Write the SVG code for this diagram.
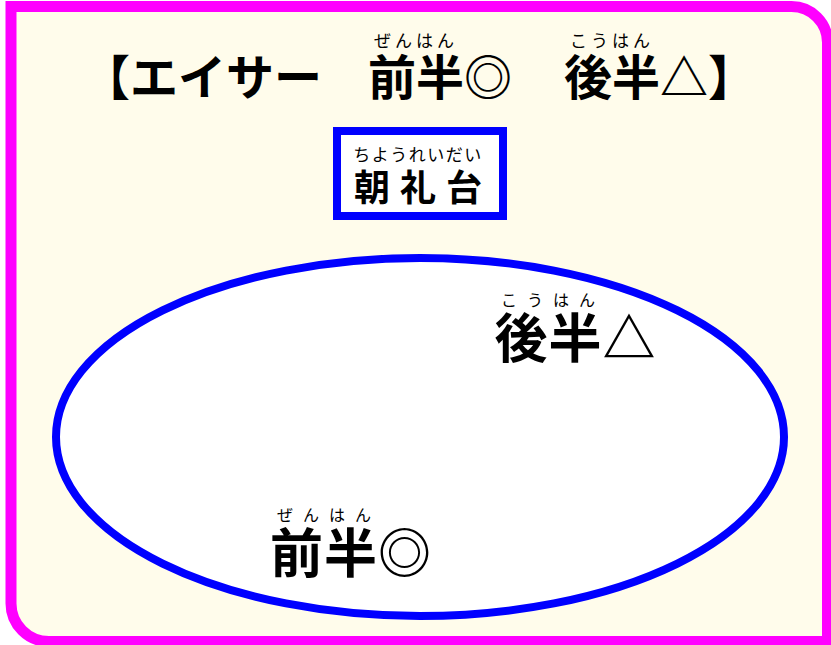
<svg xmlns="http://www.w3.org/2000/svg" width="831" height="645" viewBox="0 0 831 645">
<style>
.big{font-family:"Noto Sans CJK JP","Noto Sans CJK SC",sans-serif;font-weight:700;fill:#000}
.ruby{font-family:"Noto Sans CJK JP","Noto Sans CJK SC",sans-serif;font-weight:400;fill:#000}
</style>
<rect width="831" height="645" fill="#ffffff"/>
<g id="frame">
<path d="M11,6.5 H791.5 A36,36 0 0 1 827.5,42.5 V641.5 H49 A38,38 0 0 1 11,603.5 Z" fill="#fffceb" stroke="#ff00ff" stroke-width="11"/>
</g>
<g id="title">
<text class="ruby" x="416" y="47" font-size="17" letter-spacing="4" text-anchor="middle">ぜんはん</text>
<text class="ruby" x="612" y="47" font-size="17" letter-spacing="4" text-anchor="middle">こうはん</text>
<text class="big" x="82" y="95" font-size="48">【エイサー</text>
<text class="big" x="368" y="95" font-size="48">前半◎</text>
<text class="big" x="564" y="95" font-size="48">後半△】</text>
</g>
<g id="chourei">
<rect x="337" y="131" width="166" height="85" fill="#ffffff" stroke="#0000ff" stroke-width="8"/>
<text class="ruby" x="418" y="161" font-size="17" letter-spacing="1.5" text-anchor="middle">ちようれいだい</text>
<text class="big" x="423" y="201" font-size="36" letter-spacing="10" text-anchor="middle">朝礼台</text>
</g>
<g id="field">
<ellipse cx="420" cy="437" rx="364" ry="179" fill="#ffffff" stroke="#0000ff" stroke-width="8"/>
</g>
<g id="kouhan">
<text class="ruby" x="553" y="306" font-size="16" letter-spacing="10" text-anchor="middle">こうはん</text>
<text class="big" x="494.5" y="358" font-size="53" letter-spacing="1">後半△</text>
</g>
<g id="zenhan">
<text class="ruby" x="329" y="521" font-size="16" letter-spacing="10" text-anchor="middle">ぜんはん</text>
<text class="big" x="270" y="573" font-size="53" letter-spacing="1">前半◎</text>
</g>
<g id="connectors"></g>
</svg>
